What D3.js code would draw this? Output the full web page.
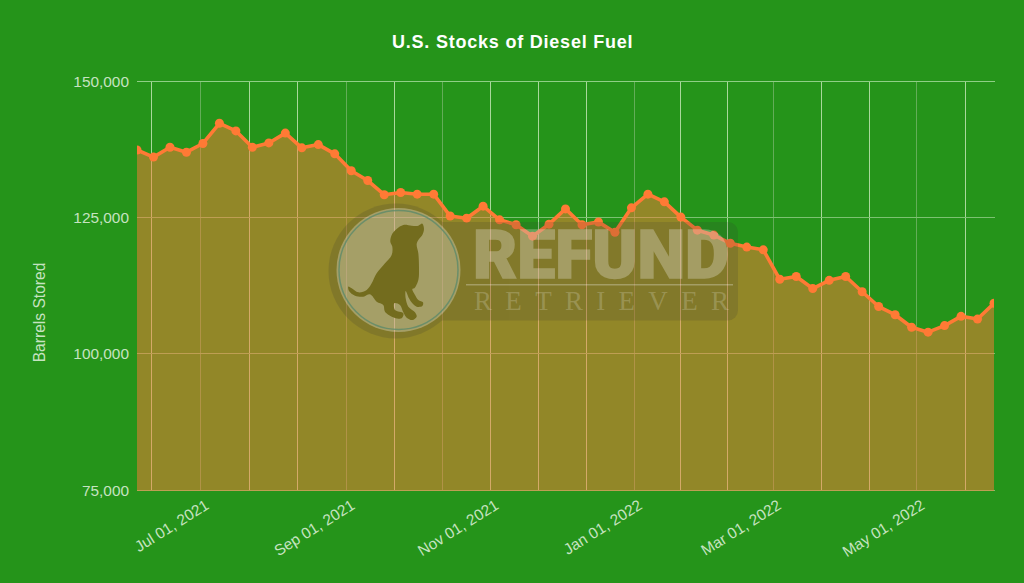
<!DOCTYPE html>
<html>
<head>
<meta charset="utf-8">
<script src="https://cdn.jsdelivr.net/npm/d3@7"></script>
<style>
html,body{margin:0;padding:0;background:#25941a;overflow:hidden}
text{font-family:"Liberation Sans",Arial,sans-serif}
</style>
</head>
<body>
<svg id="c" width="1024" height="583"></svg>
<script>
const chartTitle = "U.S. Stocks of Diesel Fuel";
const yAxisTitle = "Barrels Stored";
const firstWeek = "2021-06-04";
const stocks = [137.4,136.1,137.9,137.0,138.6,142.3,140.9,137.9,138.7,140.5,137.8,138.4,136.7,133.6,131.8,129.2,129.6,129.3,129.3,125.3,124.9,127.1,124.6,123.7,121.6,123.8,126.6,123.7,124.2,122.3,126.8,129.3,127.9,125.1,122.7,121.8,120.3,119.6,119.1,113.7,114.2,112.0,113.5,114.2,111.4,108.7,107.2,104.9,104.0,105.2,106.9,106.4,109.3];
const yTicks = [75000,100000,125000,150000];
const labelledDates = ["2021-07-01","2021-09-01","2021-11-01","2022-01-01","2022-03-01","2022-05-01"];
const gridDates = ["2021-06-10T00","2021-07-01T00","2021-07-21T18","2021-08-11T00","2021-09-01T00","2021-09-21T12","2021-10-11T18","2021-11-01T00","2021-11-21T12","2021-12-12T00","2022-01-01T12","2022-01-21T00","2022-02-10T00","2022-03-01T12","2022-03-21T18","2022-04-11T00","2022-05-01T00","2022-05-22T00"];
const dimGrid = ["2021-07-01T00","2021-09-01T00","2021-10-11T18","2022-01-01T12","2022-03-01T12","2022-05-01T00"];
const dogOutline = [[262,56],[267,72],[262,90],[250,105],[245,118],[250,145],[252,190],[250,225],[238,250],[232,252],[240,270],[250,285],[264,292],[262,303],[245,305],[232,295],[222,280],[212,258],[212,280],[220,305],[240,322],[245,335],[232,345],[215,338],[205,322],[195,300],[178,295],[180,315],[205,325],[200,340],[178,338],[150,320],[145,300],[125,290],[105,268],[85,275],[60,272],[42,258],[40,245],[50,250],[70,262],[95,255],[110,235],[125,205],[150,175],[170,150],[172,125],[166,110],[170,90],[185,72],[205,60],[230,62],[250,62]];

const parse = d3.utcParse("%Y-%m-%d");
const parseGrid = d3.utcParse("%Y-%m-%dT%H");
const start = parse(firstWeek);
const data = stocks.map((v,i)=>({date:d3.utcDay.offset(start,i*7),value:v*1000}));
const m = {l:137,r:994,t:81.3,b:490.3};
const x = d3.scaleUtc().domain([start,d3.utcDay.offset(start,52*7)]).range([m.l,m.r]);
const y = d3.scaleLinear().domain([75000,150000]).range([m.b,m.t]);
const svg = d3.select("#c");
const tickColor = "#c6e3c1";
svg.append("rect").attr("width",1024).attr("height",583).attr("fill","#25941a");

svg.append("text").attr("x",512.7).attr("y",47.5).attr("text-anchor","middle")
  .attr("font-size",18).attr("font-weight","bold").attr("letter-spacing",0.78).attr("fill","#ffffff").text(chartTitle);

svg.append("text").attr("transform","translate(45,312.5) rotate(-90)").attr("text-anchor","middle")
  .attr("font-size",15.6).attr("fill",tickColor).text(yAxisTitle);

// gridlines
const g = svg.append("g");
g.selectAll("line.v").data(gridDates).join("line").attr("class","v")
  .attr("x1",d=>Math.floor(x(parseGrid(d)))+.5).attr("x2",d=>Math.floor(x(parseGrid(d)))+.5)
  .attr("y1",m.t).attr("y2",m.b)
  .attr("stroke",d=>dimGrid.includes(d)?"#63ad58":"#a9d89b").attr("stroke-width",1);
g.selectAll("line.h").data(yTicks).join("line").attr("class","h")
  .attr("x1",m.l).attr("x2",m.r+1).attr("y1",d=>Math.floor(y(d))+.5).attr("y2",d=>Math.floor(y(d))+.5)
  .attr("stroke",d=>d===150000?"#8fcf86":"#7cc271").attr("stroke-width",1);

// y labels
svg.selectAll("text.yl").data(yTicks).join("text").attr("class","yl")
  .attr("x",129).attr("y",d=>y(d)+5.5).attr("text-anchor","end")
  .attr("font-size",15.4).attr("fill",tickColor).text(d3.format(","));

// x labels
const fmt = d3.utcFormat("%b %d, %Y");
svg.selectAll("text.xl").data(labelledDates).join("text").attr("class","xl")
  .attr("transform",d=>`translate(${x(parse(d))+9.5},${508}) rotate(-32)`).attr("text-anchor","end")
  .attr("font-size",15.4).attr("fill",tickColor).text(d=>fmt(parse(d)));

// area + line
svg.append("clipPath").attr("id","clip").append("rect").attr("x",m.l).attr("y",m.t-5).attr("width",m.r-m.l).attr("height",m.b-m.t+6.7);
const plot = svg.append("g").attr("clip-path","url(#clip)");
plot.append("path").datum(data).attr("fill","#ff7a35").attr("fill-opacity",.5)
  .attr("d",d3.area().x(d=>x(d.date)).y0(m.b+.7).y1(d=>y(d.value)));
plot.append("path").datum(data).attr("fill","none").attr("stroke","#ff7a35").attr("stroke-width",3.6)
  .attr("stroke-linejoin","round")
  .attr("d",d3.line().x(d=>x(d.date)).y(d=>y(d.value)));
plot.selectAll("circle").data(data).join("circle")
  .attr("cx",d=>x(d.date)).attr("cy",d=>y(d.value)).attr("r",4.5).attr("fill","#ff7a35");

// watermark
const wm = svg.append("g");
const shade = wm.append("g").attr("opacity",.17);
shade.append("rect").attr("x",395).attr("y",222).attr("width",343).attr("height",98.5).attr("rx",10).attr("fill","#333");
shade.append("circle").attr("cx",396).attr("cy",271).attr("r",67.5).attr("fill","#333");
wm.append("circle").attr("cx",398.5).attr("cy",270).attr("r",62).attr("fill","#ffffff").attr("fill-opacity",.29);
wm.append("circle").attr("cx",398.5).attr("cy",270).attr("r",59.5).attr("fill","none").attr("stroke","#5d8a6a").attr("stroke-width",1.5).attr("stroke-opacity",.8);
wm.append("path").attr("transform","translate(335,205) scale(0.3333)")
  .attr("d",d3.line().curve(d3.curveCatmullRomClosed.alpha(.5))(dogOutline))
  .attr("fill","#736c1e");
wm.append("text").attr("x",473).attr("y",278).attr("textLength",256).attr("lengthAdjust","spacingAndGlyphs")
  .attr("font-size",67).attr("style","font-family:Roboto,sans-serif;font-weight:900")
  .attr("fill","#ffffff").attr("stroke","#ffffff").attr("stroke-width",1.6).attr("opacity",.27).text("REFUND");
wm.append("line").attr("x1",466).attr("x2",733).attr("y1",284.7).attr("y2",284.7)
  .attr("stroke","#ffffff").attr("stroke-opacity",.28).attr("stroke-width",1.5);
wm.append("text").attr("x",474).attr("y",310).attr("textLength",255).attr("lengthAdjust","spacing")
  .attr("font-size",27).attr("style","font-family:'Liberation Serif',serif")
  .attr("fill","#ffffff").attr("fill-opacity",.2).text("RETRIEVER");
</script>
</body>
</html>
